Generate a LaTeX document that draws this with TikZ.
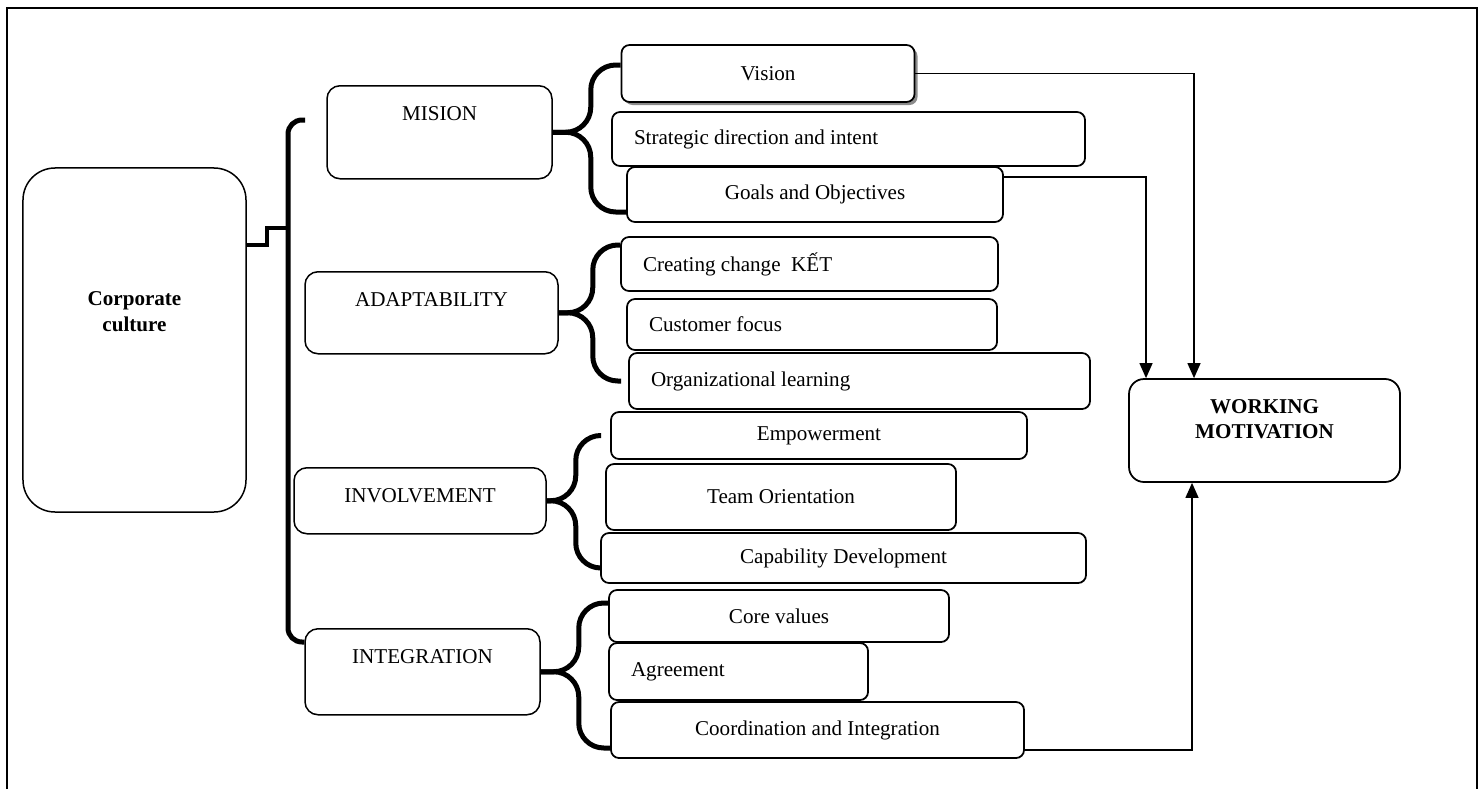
\documentclass[tikz,border=0pt]{standalone}
\usepackage{fontspec}
\setmainfont{Liberation Serif}
\usetikzlibrary{arrows.meta,calc,shadows}

\begin{document}
\begin{tikzpicture}[x=0.2mm,y=-0.2mm,font=\fontsize{12pt}{14.5pt}\selectfont,
  >={Triangle[length=3mm,width=2.6mm]},
  box/.style={draw,line width=0.35mm,rounded corners=1.6mm,fill=white},
  lft/.style={align=flush left,inner xsep=4.4mm},
  cat/.style={draw,line width=0.3mm,rounded corners=2.6mm,anchor=north,
    inner ysep=0pt,text height=7mm},
  brace/.style={line width=1mm,rounded corners=5mm},
  arr/.style={->,line width=0.7pt}]
\useasboundingbox (0,0) rectangle (1483,789);
\draw[line width=0.4mm] (7,789) |- (1477,8) -- (1477,789);

% main blocks
\node[draw,line width=0.3mm,rounded corners=6.4mm,minimum width=44.6mm,
  minimum height=68.8mm] (cc) at (134.5,340) {};
\node[font=\fontsize{12pt}{15pt}\selectfont\bfseries,align=center] (cc-t)
  at ([yshift=5.7mm]cc.center) {Corporate\\culture};
\node[draw,line width=0.35mm,rounded corners=3mm,minimum width=54.2mm,
  minimum height=20.6mm] (wm) at (1264.5,430.5) {};
\node[font=\fontsize{12pt}{14.2pt}\selectfont\bfseries,align=center] (wm-t)
  at ([yshift=2.2mm]wm.center) {WORKING\\MOTIVATION};

% four traits
\node[cat,minimum width=45mm,text depth=11.6mm] (mis) at (439.5,85) {MISION};
\node[cat,minimum width=50.6mm,text depth=9.4mm] (ada) at (431.5,271) {ADAPTABILITY};
\node[cat,minimum width=50.4mm,text depth=6.2mm] (inv) at (420,467) {INVOLVEMENT};
\node[cat,minimum width=47mm,text depth=10.2mm] (int) at (422.5,628) {INTEGRATION};

% indices
\node[box,minimum width=58.6mm,minimum height=11.4mm,
  drop shadow={shadow xshift=0.6mm,shadow yshift=-0.6mm,fill=black!45,opacity=1}]
  (vis) at (768,73.5) {Vision};
\node[box,lft,minimum width=94.6mm,minimum height=10.8mm,text width=85.8mm]
  (str) at (848.5,139) {Strategic direction and intent};
\node[box,minimum width=75.2mm,minimum height=11mm] (goa) at (815,194.5) {Goals and Objectives};
\node[box,lft,minimum width=75.4mm,minimum height=10.8mm,text width=66.6mm]
  (cre) at (809.5,264) {Creating change~~KẾT};
\node[box,lft,minimum width=74mm,minimum height=10.2mm,text width=65.2mm]
  (cus) at (812,324.5) {Customer focus};
\node[box,lft,minimum width=92.2mm,minimum height=11.2mm,text width=83.4mm]
  (org) at (859.5,381) {Organizational learning};
\node[box,minimum width=83.2mm,minimum height=9.4mm] (emp) at (819,435.5) {Empowerment};
\node[box,minimum width=70mm,minimum height=13.2mm] (tea) at (781,497) {Team Orientation};
\node[box,minimum width=97mm,minimum height=10mm] (cap) at (843.5,558) {Capability Development};
\node[box,minimum width=68mm,minimum height=10.4mm] (cor) at (779,616) {Core values};
\node[box,lft,minimum width=51.8mm,minimum height=11.4mm,text width=43mm]
  (agr) at (738.5,671.5) {Agreement};
\node[box,minimum width=82.6mm,minimum height=11.2mm] (coo) at (817.5,730) {Coordination and Integration};

% left bar
\coordinate (bartop) at (305,120);
\coordinate (bar) at (288,228);
\coordinate (jog) at (267,245);
\draw[line width=0.8mm] (cc.east |- jog) -- (jog) |- (bar);
\draw[brace,rounded corners=2.8mm] (bartop) -| (bar) |- ([yshift=-2.8mm]int.north west);

% braces
\draw[brace] ([yshift=1.7mm]vis.west) -| ($(mis.east)+(7.6mm,0)$) -- (mis.east);
\draw[brace] ([yshift=-3.5mm]goa.west) -| ($(mis.east)+(7.6mm,0)$) -- (mis.east);
\draw[brace] ([yshift=3.8mm]cre.west) -| ($(ada.east)+(6.8mm,0)$) -- (ada.east);
\draw[brace] ([xshift=-1.4mm]org.west) -| ($(ada.east)+(6.8mm,0)$) -- (ada.east);
\draw[brace] ([xshift=-1.8mm]emp.west) -| ($(inv.east)+(5.8mm,0)$) -- (inv.east);
\draw[brace] ([yshift=-2mm]cap.west) -| ($(inv.east)+(5.8mm,0)$) -- (inv.east);
\draw[brace] ([yshift=2.6mm]cor.west) -| ($(int.east)+(7.6mm,0)$) -- (int.east);
\draw[brace] ([yshift=-3.6mm]coo.west) -| ($(int.east)+(7.6mm,0)$) -- (int.east);

% to motivation
\draw[arr] (vis.east) -| ([xshift=-14.1mm]wm.north);
\draw[arr] ([yshift=3.5mm]goa.east) -| ([xshift=-23.7mm]wm.north);
\draw[arr] ([yshift=-4mm]coo.east) -| ([xshift=-14.5mm]wm.south);
\end{tikzpicture}
\end{document}
